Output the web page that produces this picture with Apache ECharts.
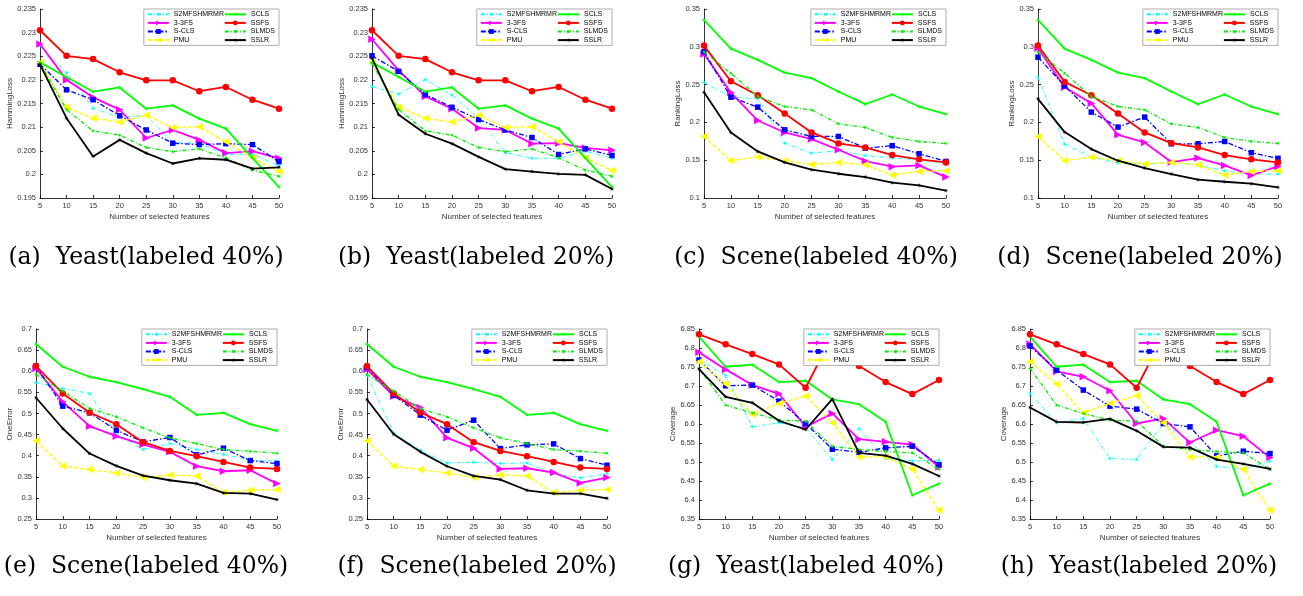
<!DOCTYPE html>
<html>
<head>
<meta charset="utf-8">
<script src="https://cdn.jsdelivr.net/npm/echarts@6/dist/echarts.min.js"></script>
<style>
  html, body { margin: 0; padding: 0; background: #fff; }
  #chart { width: 1303px; height: 596px; }
</style>
</head>
<body>
<div id="chart"></div>
<script>
// x axis: number of selected features
const featureCounts = [5, 10, 15, 20, 25, 30, 35, 40, 45, 50];

// series order inside every panel array below
const methodNames = ['S2MFSHMRMR', '3-3FS', 'S-CLS', 'PMU', 'SCLS', 'SSFS', 'SLMDS', 'SSLR'];

// (a) Yeast, labeled 40%, HammingLoss
const hammingYeast40 = [
  [0.2272, 0.2215, 0.2140, 0.2121, 0.2125, 0.2068, 0.2065, 0.2042, 0.2043, 0.2018],
  [0.2276, 0.2200, 0.2163, 0.2137, 0.2077, 0.2094, 0.2073, 0.2045, 0.2049, 0.2034],
  [0.2233, 0.2179, 0.2158, 0.2124, 0.2094, 0.2066, 0.2063, 0.2065, 0.2063, 0.2027],
  [0.2237, 0.2142, 0.2119, 0.2111, 0.2125, 0.2099, 0.2101, 0.2069, 0.2035, 0.2006],
  [0.2237, 0.2206, 0.2175, 0.2184, 0.2139, 0.2146, 0.2118, 0.2097, 0.2035, 0.1973],
  [0.2305, 0.2251, 0.2244, 0.2216, 0.2199, 0.2199, 0.2176, 0.2185, 0.2158, 0.2139],
  [0.2235, 0.2137, 0.2092, 0.2083, 0.2057, 0.2048, 0.2054, 0.2035, 0.2009, 0.1996],
  [0.2233, 0.2119, 0.2038, 0.2073, 0.2045, 0.2023, 0.2034, 0.2031, 0.2012, 0.2015]
];

// (b) Yeast, labeled 20%, HammingLoss
const hammingYeast20 = [
  [0.2186, 0.2170, 0.2201, 0.2168, 0.2119, 0.2046, 0.2034, 0.2034, 0.2049, 0.2034],
  [0.2286, 0.2220, 0.2165, 0.2139, 0.2098, 0.2094, 0.2065, 0.2066, 0.2056, 0.2051],
  [0.2251, 0.2218, 0.2169, 0.2142, 0.2116, 0.2094, 0.2078, 0.2042, 0.2054, 0.2040],
  [0.2237, 0.2142, 0.2119, 0.2111, 0.2125, 0.2099, 0.2101, 0.2069, 0.2035, 0.2008],
  [0.2237, 0.2206, 0.2175, 0.2184, 0.2139, 0.2146, 0.2118, 0.2097, 0.2035, 0.1973],
  [0.2305, 0.2251, 0.2244, 0.2216, 0.2199, 0.2199, 0.2176, 0.2185, 0.2158, 0.2139],
  [0.2235, 0.2137, 0.2092, 0.2083, 0.2057, 0.2048, 0.2054, 0.2035, 0.2009, 0.1996],
  [0.2246, 0.2126, 0.2086, 0.2065, 0.2037, 0.2011, 0.2006, 0.2001, 0.1999, 0.1969]
];

// (c) Scene, labeled 40%, RankingLoss
const rankingScene40 = [
  [0.2527, 0.2334, 0.2312, 0.1726, 0.1594, 0.1625, 0.1563, 0.1528, 0.1506, 0.1453],
  [0.2906, 0.2395, 0.2025, 0.1867, 0.1779, 0.1638, 0.1489, 0.1414, 0.1431, 0.1277],
  [0.2937, 0.2334, 0.2202, 0.1902, 0.1814, 0.1814, 0.1660, 0.1691, 0.1585, 0.1484],
  [0.1814, 0.1493, 0.1541, 0.1493, 0.1444, 0.1471, 0.1440, 0.1304, 0.1352, 0.1361],
  [0.3355, 0.2976, 0.2827, 0.2659, 0.2585, 0.2408, 0.2241, 0.2369, 0.2210, 0.2109],
  [0.3016, 0.2545, 0.2360, 0.2118, 0.1867, 0.1722, 0.1669, 0.1568, 0.1511, 0.1471],
  [0.2932, 0.2651, 0.2342, 0.2210, 0.2166, 0.1981, 0.1933, 0.1801, 0.1748, 0.1722],
  [0.2400, 0.1867, 0.1616, 0.1471, 0.1374, 0.1321, 0.1277, 0.1202, 0.1167, 0.1097]
];

// (d) Scene, labeled 20%, RankingLoss
const rankingScene20 = [
  [0.2598, 0.1713, 0.1541, 0.1462, 0.1444, 0.1475, 0.1436, 0.1361, 0.1317, 0.1317],
  [0.2981, 0.2466, 0.2254, 0.1836, 0.1735, 0.1475, 0.1528, 0.1431, 0.1299, 0.1418],
  [0.2862, 0.2483, 0.2136, 0.1938, 0.2070, 0.1717, 0.1717, 0.1748, 0.1599, 0.1524],
  [0.1814, 0.1493, 0.1541, 0.1493, 0.1449, 0.1471, 0.1440, 0.1304, 0.1352, 0.1361],
  [0.3355, 0.2976, 0.2827, 0.2659, 0.2585, 0.2408, 0.2241, 0.2369, 0.2210, 0.2109],
  [0.3016, 0.2536, 0.2360, 0.2118, 0.1867, 0.1726, 0.1669, 0.1568, 0.1511, 0.1471],
  [0.2932, 0.2651, 0.2342, 0.2210, 0.2166, 0.1981, 0.1933, 0.1801, 0.1748, 0.1722],
  [0.2312, 0.1872, 0.1647, 0.1493, 0.1396, 0.1317, 0.1242, 0.1215, 0.1189, 0.1141]
];

// (e) Scene, labeled 40%, OneError
const oneErrorScene40 = [
  [0.5735, 0.5592, 0.5474, 0.4525, 0.4145, 0.4287, 0.4145, 0.4027, 0.3892, 0.3876],
  [0.6067, 0.5276, 0.4699, 0.4461, 0.4264, 0.4090, 0.3750, 0.3631, 0.3655, 0.3338],
  [0.6122, 0.5173, 0.5015, 0.4604, 0.4327, 0.4430, 0.4019, 0.4177, 0.3884, 0.3813],
  [0.4351, 0.3758, 0.3671, 0.3592, 0.3481, 0.3544, 0.3520, 0.3125, 0.3180, 0.3196],
  [0.6644, 0.6106, 0.5869, 0.5743, 0.5576, 0.5395, 0.4967, 0.5015, 0.4746, 0.4588],
  [0.6122, 0.5474, 0.5023, 0.4746, 0.4319, 0.4113, 0.3987, 0.3852, 0.3718, 0.3686],
  [0.5924, 0.5529, 0.5118, 0.4920, 0.4659, 0.4422, 0.4287, 0.4145, 0.4105, 0.4058],
  [0.5371, 0.4643, 0.4050, 0.3758, 0.3528, 0.3418, 0.3338, 0.3117, 0.3101, 0.2959]
];

// (f) Scene, labeled 20%, OneError
const oneErrorScene20 = [
  [0.5909, 0.4540, 0.4129, 0.3829, 0.3845, 0.3813, 0.3829, 0.3576, 0.3473, 0.3576],
  [0.6043, 0.5410, 0.5142, 0.4422, 0.4177, 0.3686, 0.3702, 0.3600, 0.3354, 0.3481],
  [0.6091, 0.5434, 0.4960, 0.4604, 0.4841, 0.4169, 0.4256, 0.4279, 0.3931, 0.3773],
  [0.4351, 0.3758, 0.3671, 0.3592, 0.3481, 0.3544, 0.3520, 0.3125, 0.3180, 0.3196],
  [0.6644, 0.6106, 0.5869, 0.5743, 0.5576, 0.5395, 0.4967, 0.5015, 0.4746, 0.4588],
  [0.6122, 0.5474, 0.5023, 0.4746, 0.4319, 0.4113, 0.3987, 0.3852, 0.3718, 0.3686],
  [0.5924, 0.5529, 0.5118, 0.4920, 0.4659, 0.4422, 0.4287, 0.4145, 0.4105, 0.4058],
  [0.5331, 0.4509, 0.4090, 0.3750, 0.3520, 0.3434, 0.3180, 0.3101, 0.3101, 0.2991]
];

// (g) Yeast, labeled 40%, Coverage
const coverageYeast40 = [
  [6.7709, 6.7270, 6.5925, 6.6031, 6.5899, 6.5064, 6.5881, 6.5090, 6.5029, 6.5046],
  [6.7885, 6.7437, 6.7024, 6.6795, 6.5925, 6.6277, 6.5600, 6.5530, 6.5459, 6.4870],
  [6.7683, 6.7006, 6.7024, 6.6602, 6.6013, 6.5336, 6.5257, 6.5372, 6.5416, 6.4930],
  [6.7639, 6.7050, 6.6259, 6.6540, 6.6734, 6.6031, 6.5134, 6.5134, 6.4809, 6.3728],
  [6.8298, 6.7507, 6.7560, 6.7103, 6.7138, 6.6646, 6.6523, 6.6057, 6.4124, 6.4431],
  [6.8359, 6.8096, 6.7841, 6.7568, 6.6953, 6.8315, 6.7525, 6.7103, 6.6787, 6.7156],
  [6.7463, 6.6497, 6.6294, 6.6101, 6.6075, 6.5416, 6.5328, 6.5275, 6.5240, 6.4810],
  [6.7446, 6.6716, 6.6558, 6.6083, 6.5855, 6.6655, 6.5240, 6.5169, 6.4950, 6.4633]
];

// (h) Yeast, labeled 20%, Coverage
const coverageYeast20 = [
  [6.6804, 6.6031, 6.6146, 6.5090, 6.5072, 6.6013, 6.5530, 6.4888, 6.4809, 6.5020],
  [6.8105, 6.7384, 6.7243, 6.6874, 6.6013, 6.6146, 6.5512, 6.5837, 6.5679, 6.5116],
  [6.8052, 6.7419, 6.6892, 6.6470, 6.6391, 6.6013, 6.5925, 6.5160, 6.5284, 6.5222],
  [6.7639, 6.7050, 6.6294, 6.6540, 6.6751, 6.6031, 6.5134, 6.5134, 6.4809, 6.3728],
  [6.8298, 6.7507, 6.7560, 6.7103, 6.7138, 6.6646, 6.6523, 6.6057, 6.4124, 6.4431],
  [6.8359, 6.8096, 6.7841, 6.7568, 6.6953, 6.8315, 6.7525, 6.7103, 6.6787, 6.7156],
  [6.7463, 6.6497, 6.6277, 6.6101, 6.6075, 6.5416, 6.5328, 6.5275, 6.5240, 6.4809],
  [6.6435, 6.6057, 6.6040, 6.6136, 6.5820, 6.5398, 6.5380, 6.5064, 6.4950, 6.4818]
];

const panelData = [hammingYeast40, hammingYeast20, rankingScene40, rankingScene20,
                   oneErrorScene40, oneErrorScene20, coverageYeast40, coverageYeast20];
const yNames = ['HammingLoss', 'HammingLoss', 'RankingLoss', 'RankingLoss',
                'OneError', 'OneError', 'Coverage', 'Coverage'];
const yMins = [0.195, 0.195, 0.1, 0.1, 0.25, 0.25, 6.35, 6.35];
const yMaxs = [0.235, 0.235, 0.35, 0.35, 0.7, 0.7, 6.85, 6.85];
const yStep = 0.005;
const yIntervals = [yStep, yStep, 0.05, 0.05, 0.05, 0.05, 0.05, 0.05];
const captions = [
  '(a)  Yeast(labeled 40%)', '(b)  Yeast(labeled 20%)',
  '(c)  Scene(labeled 40%)', '(d)  Scene(labeled 20%)',
  '(e)  Scene(labeled 40%)', '(f)  Scene(labeled 20%)',
  '(g)  Yeast(labeled 40%)', '(h)  Yeast(labeled 20%)'
];

// layout of every panel (pixels)
const gridBoxes = [
  { left: 40, top: 9, width: 239, height: 189, nameGap: 24, capX: 146, capY: 258 },
  { left: 372, top: 9, width: 240, height: 189, nameGap: 24, capX: 476, capY: 258 },
  { left: 704, top: 9, width: 242, height: 189, nameGap: 19, capX: 816, capY: 258 },
  { left: 1038, top: 9, width: 240, height: 189, nameGap: 20, capX: 1140, capY: 258 },
  { left: 36, top: 329, width: 241, height: 190, nameGap: 20, capX: 146, capY: 567 },
  { left: 367, top: 329, width: 240, height: 190, nameGap: 20, capX: 477, capY: 567 },
  { left: 699, top: 329, width: 240, height: 190, nameGap: 20, capX: 806, capY: 567 },
  { left: 1030, top: 329, width: 240, height: 190, nameGap: 19, capX: 1139, capY: 567 }
];

const starPath = 'path://M10,5L6.39,5.57L8.54,8.54L5.57,6.39L5,10L4.43,6.39L1.46,8.54L3.61,5.57L0,5L3.61,4.43L1.46,1.46L4.43,3.61L5,0L5.57,3.61L8.54,1.46L6.39,4.43Z';
const rightTri = 'path://M0,0L10,5L0,10Z';
const leftTri = 'path://M10,0L0,5L10,10Z';

const methodStyles = {
  'S2MFSHMRMR': { color: '#00FFFF', width: 0.9, type: [4, 2, 1, 2], symbol: starPath, size: 5.5 },
  '3-3FS': { color: '#FF00FF', width: 1.8, type: 'solid', symbol: rightTri, size: 7.5 },
  'S-CLS': { color: '#0000FF', width: 1.3, type: [5, 2, 1.5, 2], symbol: 'rect', size: 5.5 },
  'PMU': { color: '#FFFF00', width: 1.4, type: [4, 2], symbol: leftTri, size: 7.5 },
  'SCLS': { color: '#00FF00', width: 1.8, type: 'solid', symbol: starPath, size: 5 },
  'SSFS': { color: '#FF0000', width: 1.8, type: 'solid', symbol: 'circle', size: 6.5 },
  'SLMDS': { color: '#00EE00', width: 1.3, type: [4, 2, 1, 2], symbol: starPath, size: 5 },
  'SSLR': { color: '#000000', width: 1.8, type: 'solid', symbol: starPath, size: 5 }
};

const FONT = 'Liberation Sans';
const W = 1303;

const grid = [], xAxis = [], yAxis = [], series = [], legend = [], graphic = [];

gridBoxes.forEach((g, p) => {
  grid.push({ left: g.left, top: g.top, width: g.width, height: g.height, containLabel: false });

  xAxis.push({
    type: 'value', gridIndex: p, min: 5, max: 50, interval: 5,
    name: 'Number of selected features', nameLocation: 'middle', nameGap: 15,
    nameTextStyle: { fontFamily: FONT, fontSize: 8, color: '#333' },
    axisLine: { lineStyle: { color: '#000', width: 0.8 } },
    axisTick: { inside: true, length: 3, lineStyle: { color: '#000', width: 0.8 } },
    axisLabel: { fontFamily: FONT, fontSize: 7.5, color: '#333', margin: 4 },
    splitLine: { show: false }
  });

  yAxis.push({
    type: 'value', gridIndex: p, min: yMins[p], max: yMaxs[p], interval: yIntervals[p],
    name: yNames[p], nameLocation: 'middle', nameGap: g.nameGap, nameRotate: 90,
    nameTextStyle: { fontFamily: FONT, fontSize: 8, color: '#333' },
    axisLine: { show: true, lineStyle: { color: '#000', width: 0.8 } },
    axisTick: { show: true, inside: true, length: 3, lineStyle: { color: '#000', width: 0.8 } },
    axisLabel: { fontFamily: FONT, fontSize: 7.5, color: '#333', margin: 4 },
    splitLine: { show: false }
  });

  panelData[p].forEach((vals, m) => {
    const name = methodNames[m];
    const st = methodStyles[name];
    series.push({
      type: 'line', name: name, xAxisIndex: p, yAxisIndex: p,
      data: featureCounts.map((x, i) => [x, vals[i]]),
      symbol: st.symbol, symbolSize: st.size, showSymbol: true,
      lineStyle: { color: st.color, width: st.width, type: st.type },
      itemStyle: { color: st.color },
      z: 2 + m
    });
  });

  // two-column legend in the upper right corner of the plot
  const legendItems = [];
  for (let r = 0; r < 4; r++) {
    legendItems.push({ name: methodNames[r], textStyle: { width: 50 } });
    legendItems.push({ name: methodNames[r + 4], textStyle: { width: 25 } });
  }
  legend.push({
    data: legendItems,
    orient: 'horizontal',
    right: W - (g.left + g.width), top: g.top,
    width: 132,
    padding: [1, 3, 1, 3],
    itemGap: 0, itemWidth: 21, itemHeight: 6,
    backgroundColor: '#fff', borderColor: '#777', borderWidth: 0.6,
    selectedMode: false,
    textStyle: { fontFamily: FONT, fontSize: 7, color: '#000', lineHeight: 8.6 },
    z: 10
  });

  graphic.push({
    type: 'text', x: g.capX, y: g.capY,
    style: {
      text: captions[p], fill: '#000',
      font: '23.5px "DejaVu Serif"',
      align: 'center', verticalAlign: 'middle'
    }
  });
});

const chart = echarts.init(document.getElementById('chart'));
chart.setOption({
  animation: false,
  backgroundColor: '#fff',
  grid, xAxis, yAxis, series, legend, graphic
});
</script>
</body>
</html>
